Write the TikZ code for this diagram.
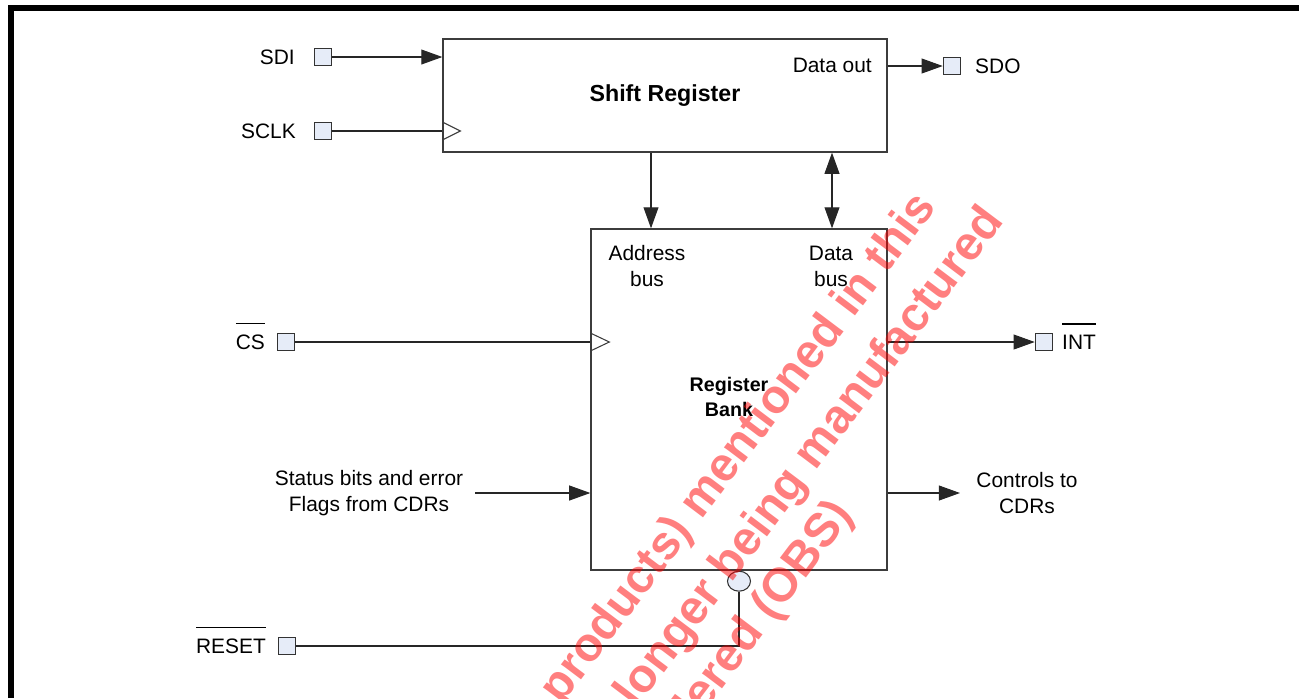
\documentclass[tikz,border=0pt]{standalone}
\usepackage{fontspec}
\setmainfont{Liberation Sans}
\usetikzlibrary{arrows.meta}
\usetikzlibrary{shapes.geometric}
\definecolor{padfill}{RGB}{230,236,248}
\definecolor{boxline}{RGB}{60,60,60}
\newcommand{\barsig}[1]{\vbox{\hrule height 1pt\kern 6pt\hbox{#1}}}

\begin{document}
\begin{tikzpicture}[x=0.02cm,y=-0.02cm,
	every node/.style={font=\fontsize{11.9}{14.7}\selectfont},
	block/.style={draw=boxline,line width=0.8pt,inner sep=0pt},
	pad/.style={draw=black!80,fill=padfill,line width=0.6pt,minimum size=0.35cm,inner sep=0pt},
	sig/.style={draw=black!85,line width=0.6pt},
	tip/.style={-{Triangle[length=12pt,width=8.5pt]}},
	both/.style={{Triangle[length=12pt,width=8.5pt]}-{Triangle[length=12pt,width=8.5pt]}},
	title/.style={font=\fontsize{13.2}{14.7}\selectfont\bfseries,align=center},
	clk/.style={draw=boxline,line width=0.6pt},
	stamp/.style={text=red,text opacity=0.5,font=\fontsize{27}{30}\selectfont\bfseries,rotate=53}]
	\useasboundingbox (0,0) rectangle (1299,698);
	% frame
	\draw [line width=3.4pt](11,698)--(11,8)--(1299,8);
	% blocks
	\node [block,title,minimum width=8.88cm,minimum height=2.26cm] (shift) at (665,95.5){Shift Register};
	\node [block,minimum width=5.92cm,minimum height=6.82cm] (bank) at (739,399.5){};
	\node [title,font=\fontsize{11.2}{14.7}\selectfont\bfseries] (banklbl) at (729,397){Register\\Bank};
	\node [anchor=east] (dout) at (878,65){Data out};
	\node [align=center] (abus) at (647,266){Address\\bus};
	\node [align=center] (dbus) at (831,266){Data\\bus};
	% pads
	\node [pad] (sdi) at (323,57){};
	\node [pad] (sclk) at (323,131){};
	\node [pad] (sdo) at (952,66){};
	\node [pad] (cs) at (286,342){};
	\node [pad] (int) at (1044,342){};
	\node [pad] (reset) at (287,646){};
	\node [ellipse,draw=black!80,fill=padfill,line width=0.6pt,minimum width=0.46cm,minimum height=0.4cm,inner sep=0pt,anchor=north] (rstbub) at (bank.south){};
	% pad labels
	\node [anchor=east] (sdilbl) at (301,57){SDI};
	\node [anchor=east] (sclklbl) at (302,131){SCLK};
	\node [anchor=west] (sdolbl) at (969,66){SDO};
	\node [anchor=base east] (cslbl) at (271,349.5){\barsig{CS}};
	\node [anchor=base west] (intlbl) at (1056,349.5){\barsig{INT}};
	\node [anchor=base east] (resetlbl) at (272,653.5){\barsig{RESET}};
	\node [align=center] (stlbl) at (369,493){Status bits and error\\Flags from CDRs};
	\node [align=center] (ctlbl) at (1027,493){Controls to\\CDRs};
	\coordinate (stin) at (475,493);
	\coordinate (ctout) at (960,493);
	% connections
	\draw [sig,tip](sdi)--(sdi-|shift.west);
	\draw [sig](sclk)--(sclk-|shift.west);
	\draw [clk](sclk-|shift.west)++(0,-9)--++(18,9)--++(-18,9);
	\draw [sig,tip](shift.east|-sdo)--(sdo);
	\draw [sig,tip](651,0|-shift.south)--(651,0|-bank.north);
	\draw [sig,both](832,0|-shift.south)--(832,0|-bank.north);
	\draw [sig](cs)--(cs-|bank.west);
	\draw [clk](cs-|bank.west)++(0,-9)--++(19,9)--++(-19,9);
	\draw [sig,tip](bank.east|-int)--(int);
	\draw [sig,tip](stin)--(stin-|bank.west);
	\draw [sig,tip](ctout-|bank.east)--(ctout);
	\draw [sig](reset)-|(rstbub.south);
	% stamp
	\node [stamp] at (740,449){products) mentioned in this};
	\node [stamp] at (811,458){longer being manufactured};
	\node [stamp] at (761,618){dered (OBS)};
\end{tikzpicture}
\end{document}
